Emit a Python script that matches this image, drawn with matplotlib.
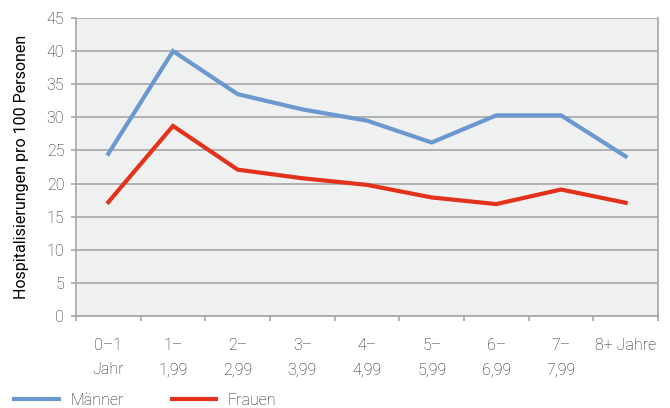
import matplotlib.pyplot as plt
import numpy as np

CATEGORIES = ["0–1\nJahr", "1–\n1,99", "2–\n2,99", "3–\n3,99", "4–\n4,99",
              "5–\n5,99", "6–\n6,99", "7–\n7,99", "8+ Jahre\n"]
MAENNER = [24.5, 40.0, 33.5, 31.2, 29.5, 26.2, 30.3, 30.3, 24.1]
FRAUEN = [17.2, 28.7, 22.1, 20.8, 19.8, 17.9, 16.9, 19.1, 17.1]

BLUE = "#6A98CF"
RED = "#E3321C"
GRID = "#A6A6A6"
TEXT = "#1E1E1E"

plt.rcParams.update({
    "font.family": ["Roboto", "DejaVu Sans"],
    "font.weight": "light",
    "font.size": 11.5,
    "text.color": TEXT,
    "xtick.color": TEXT,
    "ytick.color": TEXT,
})

fig = plt.figure(figsize=(6.7, 4.08), dpi=100)
ax = fig.add_axes([76 / 670, 1 - 316 / 408, (658 - 76) / 670, (316 - 18) / 408])
ax.set_facecolor("#EFF0F0")

x = np.arange(len(CATEGORIES))
ax.plot(x, MAENNER, color=BLUE, lw=3, label="Männer", solid_joinstyle="miter")
ax.plot(x, FRAUEN, color=RED, lw=3, label="Frauen", solid_joinstyle="miter")

ax.set_xlim(-0.5, len(CATEGORIES) - 0.5)
ax.set_ylim(0, 45)
ax.set_yticks(np.arange(0, 46, 5))
ax.yaxis.grid(True, color=GRID, lw=1.2)
ax.set_axisbelow(True)

ax.set_xticks(x)
ax.set_xticklabels(CATEGORIES, linespacing=1.75)
ax.tick_params(axis="x", length=0, pad=16)
ax.set_xticks(np.arange(-0.5, len(CATEGORIES)), minor=True)
ax.tick_params(axis="x", which="minor", length=3.5, color=GRID, width=1.2)
ax.tick_params(axis="y", length=3.5, color=GRID, width=1.2, pad=5)

for side in ["left", "right", "bottom", "top"]:
    ax.spines[side].set_color(GRID)
    ax.spines[side].set_linewidth(1.2)
ax.spines["top"].set_visible(False)

ax.set_ylabel("Hospitalisierungen pro 100 Personen", labelpad=13)

fig.legend(loc="lower left", bbox_to_anchor=(0.0, -0.035), ncol=2, frameon=False,
           handlelength=2.8, columnspacing=3.0, handletextpad=0.7, fontsize=11.5)

fig.savefig("out.png", dpi=100)
